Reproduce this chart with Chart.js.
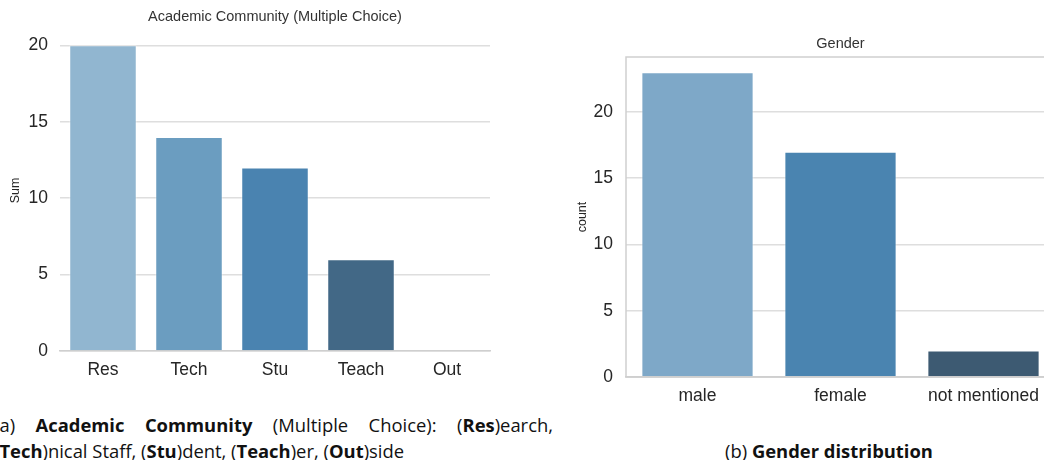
<!DOCTYPE html>
<html>
<head>
<meta charset="utf-8">
<script src="https://cdn.jsdelivr.net/npm/chart.js@4/dist/chart.umd.min.js"></script>
<style>
  html, body { margin: 0; padding: 0; background: #fff; }
  body { width: 1044px; height: 460px; overflow: hidden; position: relative; }
  canvas { position: absolute; top: 0; }
  #chartAcademic { left: 0; }
  #chartGender { left: 560px; }
  .cap { position: absolute; font-family: "Open Sans", Lato, sans-serif; font-size: 18.4px; line-height: 24px; color: #111; white-space: nowrap; }
  .cap b { font-weight: 700; }
  #capA1 { left: -6px; top: 413px; width: 559px; text-align: justify; text-align-last: justify; white-space: normal; }
  #capA2 { left: -6px; top: 439px; }
  #capB { left: 725px; top: 439px; }
</style>
</head>
<body>
<canvas id="chartAcademic" width="550" height="390"></canvas>
<canvas id="chartGender" width="561" height="410"></canvas>
<div class="cap" id="capA1">(a) <b>Academic Community</b> (Multiple Choice): (<b>Res</b>)earch,</div>
<div class="cap" id="capA2">(<b>Tech</b>)nical Staff, (<b>Stu</b>)dent, (<b>Teach</b>)er, (<b>Out</b>)side</div>
<div class="cap" id="capB">(b) <b>Gender distribution</b></div>
<script>
// Two seaborn-style bar charts side by side, with figure captions below.

const academicLabels = ['Res', 'Tech', 'Stu', 'Teach', 'Out'];
const academicSums = [20, 14, 12, 6, 0];
const academicColors = ['#91b6d0', '#6b9dc0', '#4a83b0', '#426886', '#2f4b5f'];

const genderLabels = ['male', 'female', 'not mentioned'];
const genderCounts = [23, 17, 2];
const genderColors = ['#7ea8c8', '#4a84b0', '#3d5a72'];

const yTicks = [0, 5, 10, 15, 20];

const FONT = '"Liberation Sans", Arial, sans-serif';
const GRID = '#dedede';
const SPINE = '#cfcfcf';
const TEXT = '#262626';

// Title centred over the plot area (matplotlib style), plus optional box.
const axesPlugin = {
    id: 'axes',
    afterDatasetsDraw(chart, _args, opts) {
        const a = chart.chartArea;
        const ctx = chart.ctx;
        ctx.save();
        if (opts.frame) {
            ctx.strokeStyle = SPINE;
            ctx.lineWidth = 1.5;
            ctx.strokeRect(a.left, a.top, a.right - a.left, a.bottom - a.top);
        }
        ctx.fillStyle = '#333';
        ctx.font = `${opts.titleSize}px ${FONT}`;
        ctx.textAlign = 'center';
        ctx.textBaseline = 'middle';
        ctx.fillText(opts.title, (a.left + a.right) / 2, opts.titleY);
        ctx.restore();
    },
};

const makeChart = (el, labels, values, colors, o) => new Chart(el, {
    type: 'bar',
    data: {
        labels,
        datasets: [{
            data: values,
            backgroundColor: colors,
            borderColor: 'rgba(255,255,255,0.45)',
            borderWidth: 1,
            barPercentage: 0.785,
            categoryPercentage: 1,
        }],
    },
    plugins: [axesPlugin],
    options: {
        responsive: false,
        animation: false,
        devicePixelRatio: 1,
        layout: { padding: { left: 0, right: o.padRight, top: o.padTop, bottom: 0 } },
        plugins: {
            legend: { display: false },
            tooltip: { enabled: false },
            title: { display: false },
            axes: { frame: o.frame, title: o.title, titleSize: 14.5, titleY: o.titleY },
        },
        scales: {
            x: {
                grid: { display: false },
                border: { display: true, color: SPINE, width: 1.5 },
                ticks: { color: TEXT, font: { family: FONT, size: 17.5 }, padding: 1 },
                afterFit: (s) => { s.height = o.xHeight; },
            },
            y: {
                min: 0,
                max: o.yMax,
                afterBuildTicks: (s) => { s.ticks = yTicks.map((v) => ({ value: v })); },
                grid: { color: GRID, lineWidth: 1.5, drawTicks: false },
                border: { display: false },
                ticks: { color: TEXT, font: { family: FONT, size: 17.5 }, padding: o.yPad },
                title: {
                    display: true,
                    text: o.yTitle,
                    color: TEXT,
                    font: { family: FONT, size: 12.5 },
                    padding: { top: o.yTitlePad, bottom: 0 },
                },
                afterFit: (s) => { s.width = o.yWidth; },
            },
        },
    },
});

makeChart(document.getElementById('chartAcademic'), academicLabels, academicSums, academicColors, {
    title: 'Academic Community (Multiple Choice)',
    titleY: 17,
    padTop: 30,
    padRight: 60,
    yMax: 21,
    yWidth: 60,
    yPad: 12,
    yTitle: 'Sum',
    yTitlePad: 8,
    xHeight: 39,
    frame: false,
});

makeChart(document.getElementById('chartGender'), genderLabels, genderCounts, genderColors, {
    title: 'Gender',
    titleY: 44,
    padTop: 57,
    padRight: 66,
    yMax: 24.15,
    yWidth: 66,
    yPad: 13,
    yTitle: 'count',
    yTitlePad: 15.5,
    xHeight: 33,
    frame: true,
});
</script>
</body>
</html>
